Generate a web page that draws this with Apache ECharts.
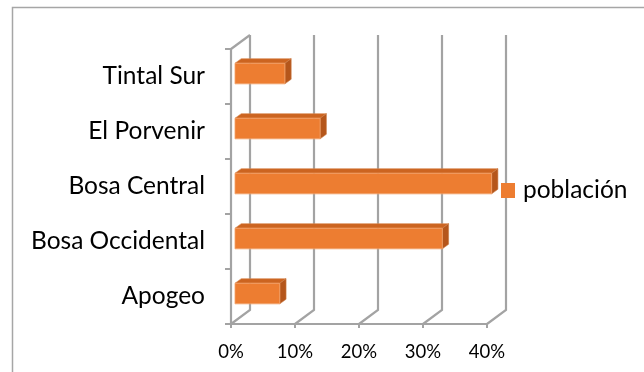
<!DOCTYPE html>
<html>
<head>
<meta charset="utf-8">
<script src="https://cdn.jsdelivr.net/npm/echarts@6/dist/echarts.min.js"></script>
<style>
  html, body { margin: 0; padding: 0; background: #fff; }
  #chart { width: 644px; height: 372px; }
</style>
</head>
<body>
<div id="chart"></div>
<script>
// Population share by neighbourhood (first category sits at the bottom)
const categories = ['Apogeo', 'Bosa Occidental', 'Bosa Central', 'El Porvenir', 'Tintal Sur'];
const poblacion = [7.0, 32.4, 40.1, 13.3, 7.8];
const seriesName = 'población';
const xTicks = [0, 10, 20, 30, 40];

// 3D box geometry: depth vector from front plane to back wall
const DEPTH = [19, -14];
const BAR_T0 = 0.21;   // bar front face depth fraction
const BAR_T1 = 0.54;   // bar back face depth fraction
const BAR_FRAC = 0.375; // bar thickness relative to category band

const GRID_COLOR = '#a3a3a3';
const FONT = 'Lato';

const chart = echarts.init(document.getElementById('chart'), null, { renderer: 'canvas' });

function frameItem(params, api) {
  const cs = params.coordSys;
  const v = api.value(0);
  const x = api.coord([v, 0])[0];
  const top = cs.y, bottom = cs.y + cs.height;
  const children = [{
    type: 'polyline',
    shape: { points: [[x, bottom], [x + DEPTH[0], bottom + DEPTH[1]], [x + DEPTH[0], top + DEPTH[1]]] },
    style: { stroke: GRID_COLOR, lineWidth: 2.2, fill: null }
  }];
  if (v === xTicks[0]) {
    children.push({
      type: 'line',
      shape: { x1: x, y1: top, x2: x + DEPTH[0], y2: top + DEPTH[1] },
      style: { stroke: GRID_COLOR, lineWidth: 2.2 }
    });
  }
  return { type: 'group', children };
}

function barItem(params, api) {
  const val = api.value(0);
  const cat = api.value(1);
  const p0 = api.coord([0, cat]);
  const p1 = api.coord([val, cat]);
  const h = api.size([0, 1])[1] * BAR_FRAC;
  const ox = DEPTH[0] * BAR_T0, oy = DEPTH[1] * BAR_T0;
  const bx = DEPTH[0] * (BAR_T1 - BAR_T0), by = DEPTH[1] * (BAR_T1 - BAR_T0);
  const xL = p0[0] + ox, xR = p1[0] + ox;
  const yT = p0[1] + oy - h / 2, yB = yT + h;
  return {
    type: 'group',
    children: [
      {
        type: 'polygon',
        shape: { points: [[xL, yT], [xR, yT], [xR + bx, yT + by], [xL + bx, yT + by]] },
        style: { fill: '#cc6420', stroke: '#d9884f', lineWidth: 0.6 }
      },
      {
        type: 'polygon',
        shape: { points: [[xR, yT], [xR + bx, yT + by], [xR + bx, yB + by], [xR, yB]] },
        style: { fill: '#b5561b', stroke: '#c97a45', lineWidth: 0.6 }
      },
      {
        type: 'rect',
        shape: { x: xL, y: yT, width: xR - xL, height: h },
        style: { fill: '#ed7d31', stroke: '#f3a36c', lineWidth: 0.8 }
      }
    ]
  };
}

chart.setOption({
  animation: false,
  backgroundColor: '#ffffff',
  graphic: [{
    type: 'polyline',
    shape: { points: [[12.5, 380], [12.5, 7.5], [660, 7.5]] },
    style: { stroke: '#a6a6a6', lineWidth: 1.5, fill: null },
    silent: true
  }],
  grid: { left: 231, top: 49, width: 256, height: 275, containLabel: false },
  legend: {
    left: 501,
    top: 178,
    padding: 0,
    orient: 'vertical',
    itemWidth: 14,
    itemHeight: 15,
    itemGap: 6,
    icon: 'rect',
    data: [{ name: seriesName, itemStyle: { color: '#ed7d31' } }],
    textStyle: { fontFamily: FONT, fontSize: 24.5, color: '#000', padding: [0, 0, 0, 3] }
  },
  xAxis: {
    type: 'value',
    min: 0,
    max: 40,
    interval: 10,
    axisLine: { show: true, lineStyle: { color: GRID_COLOR, width: 2.2 } },
    axisTick: { show: true, length: 4, lineStyle: { color: GRID_COLOR, width: 2 } },
    splitLine: { show: false },
    axisLabel: {
      formatter: '{value}%',
      fontFamily: FONT,
      fontSize: 18.5,
      color: '#000',
      margin: 19
    }
  },
  yAxis: {
    type: 'category',
    data: categories,
    axisLine: { show: true, lineStyle: { color: GRID_COLOR, width: 2.2 } },
    axisTick: { show: true, length: 6, lineStyle: { color: GRID_COLOR, width: 2 } },
    splitLine: { show: false },
    axisLabel: {
      fontFamily: FONT,
      fontSize: 24.5,
      color: '#000',
      margin: 26
    }
  },
  series: [
    {
      type: 'custom',
      name: 'frame',
      silent: true,
      clip: false,
      z: 1,
      renderItem: frameItem,
      encode: { x: 0 },
      data: xTicks.map(v => [v])
    },
    {
      type: 'custom',
      name: seriesName,
      clip: false,
      z: 2,
      itemStyle: { color: '#ed7d31' },
      renderItem: barItem,
      encode: { x: 0, y: 1 },
      data: poblacion.map((v, i) => [v, i])
    }
  ]
});
</script>
</body>
</html>
